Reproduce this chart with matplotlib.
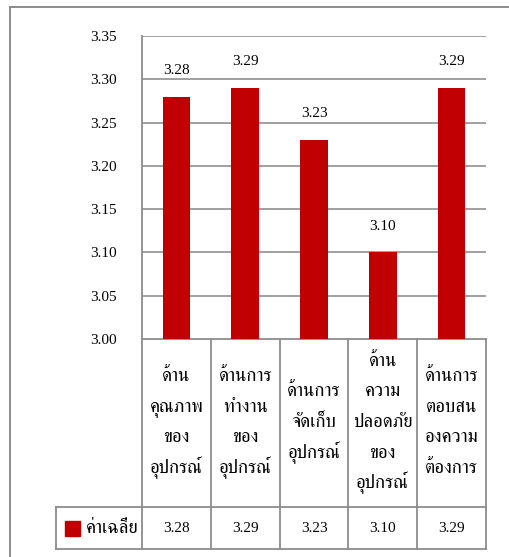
import matplotlib
matplotlib.use("Agg")
import matplotlib.pyplot as plt
from matplotlib import font_manager
from matplotlib.ft2font import FT2Font
from matplotlib.transforms import blended_transform_factory
from matplotlib.patches import Rectangle

categories = [
    "ด้าน\nคุณภาพ\nของ\nอุปกรณ์",
    "ด้านการ\nทำงาน\nของ\nอุปกรณ์",
    "ด้านการ\nจัดเก็บ\nอุปกรณ์",
    "ด้าน\nความ\nปลอดภัย\nของ\nอุปกรณ์",
    "ด้านการ\nตอบสน\nองความ\nต้องการ",
]
values = [3.28, 3.29, 3.23, 3.10, 3.29]
series_name = "ค่าเฉลี่ย"
y_ticks = [3.00, 3.05, 3.10, 3.15, 3.20, 3.25, 3.30, 3.35]


def find_thai_family():
    found = []
    for f in font_manager.fontManager.ttflist:
        try:
            cmap = FT2Font(f.fname).get_charmap()
        except Exception:
            continue
        if 0x0E14 in cmap and 0x0E49 in cmap and 0x0E13 in cmap:
            found.append(f.name)
    if not found:
        return None
    for key in ("Serif", "Norasi", "Tlwg", "Thai"):
        for n in found:
            if key in n:
                return n
    return found[0]


thai = find_thai_family()
families = ["Liberation Serif"] + ([thai] if thai else []) + ["DejaVu Sans"]
plt.rcParams["font.family"] = families

W, H = 510, 557
BAR_RED = "#C00000"
GRID = "#868686"
LINE = "#8C8C8C"
THAI_SIZE = 13.5

fig = plt.figure(figsize=(W / 100, H / 100), dpi=100)

# plot area in pixel terms
left, right, top, bottom = 142, 486, 36, 339
ax = fig.add_axes([left / W, 1 - bottom / H, (right - left) / W, (bottom - top) / H])

x = list(range(len(values)))
ax.bar(x, [v - y_ticks[0] for v in values], bottom=y_ticks[0], width=0.4,
       color=BAR_RED, zorder=3)
ax.set_xlim(-0.5, len(values) - 0.5)
ax.set_ylim(y_ticks[0], y_ticks[-1])
ax.set_yticks(y_ticks)
ax.set_yticklabels([f"{t:.2f}" for t in y_ticks], fontsize=11)
ax.tick_params(axis="y", length=0, pad=18)
ax.set_xticks([])
for t in y_ticks[1:]:
    ax.axhline(t, color=GRID, lw=1.1, zorder=1)
for s in ["top", "right", "bottom", "left"]:
    ax.spines[s].set_visible(False)

for xi, v in zip(x, values):
    ax.annotate(f"{v:.2f}", (xi, v), xytext=(0, 19), textcoords="offset points",
                ha="center", va="center", fontsize=11)

# data table below the plot area
tr = blended_transform_factory(ax.transData, ax.transAxes)
ph = bottom - top
def ay(py):
    return -(py - bottom) / ph

row1 = ay(507)
row2 = ay(549)
leg_left = -0.5 + (56 - left) / ((right - left) / len(values))
n = len(values)
kw = dict(transform=tr, color=LINE, lw=1.3, clip_on=False, solid_capstyle="projecting")

# vertical axis line runs through the table
ax.plot([-0.5, -0.5], [1, row2], **kw)
ax.plot([-0.5, n - 0.5], [0, 0], **kw)
for i in range(1, n + 1):
    ax.plot([i - 0.5, i - 0.5], [0, row2], **kw)
ax.plot([leg_left, n - 0.5], [row1, row1], **kw)
ax.plot([leg_left, n - 0.5], [row2, row2], **kw)
ax.plot([leg_left, leg_left], [row1, row2], **kw)

line_step = 30.7
mid_base = 427
for xi, c, v in zip(x, categories, values):
    lines = c.split("\n")
    k = len(lines)
    for j, ln in enumerate(lines):
        by = mid_base + (j - (k - 1) / 2) * line_step
        ax.text(xi, ay(by), ln, transform=tr, ha="center", va="baseline",
                fontsize=THAI_SIZE, clip_on=False)
    ax.text(xi, ay(528), f"{v:.2f}", transform=tr, ha="center",
            va="center", fontsize=11, clip_on=False)

# legend key inside the table
fig.add_artist(Rectangle((65 / W, 1 - 536 / H), 15 / W, 15 / H,
                         transform=fig.transFigure, color=BAR_RED))
fig.text(86 / W, 1 - 533 / H, series_name, ha="left", va="baseline",
         fontsize=THAI_SIZE)

# outer chart border
fig.add_artist(plt.Line2D([10.5 / W, 10.5 / W], [0, 1 - 7 / H], color="#8C8C8C",
                          lw=1.4, transform=fig.transFigure))
fig.add_artist(plt.Line2D([10.5 / W, 1], [1 - 7 / H, 1 - 7 / H], color="#8C8C8C",
                          lw=1.4, transform=fig.transFigure))

fig.savefig("out.png", dpi=100)
